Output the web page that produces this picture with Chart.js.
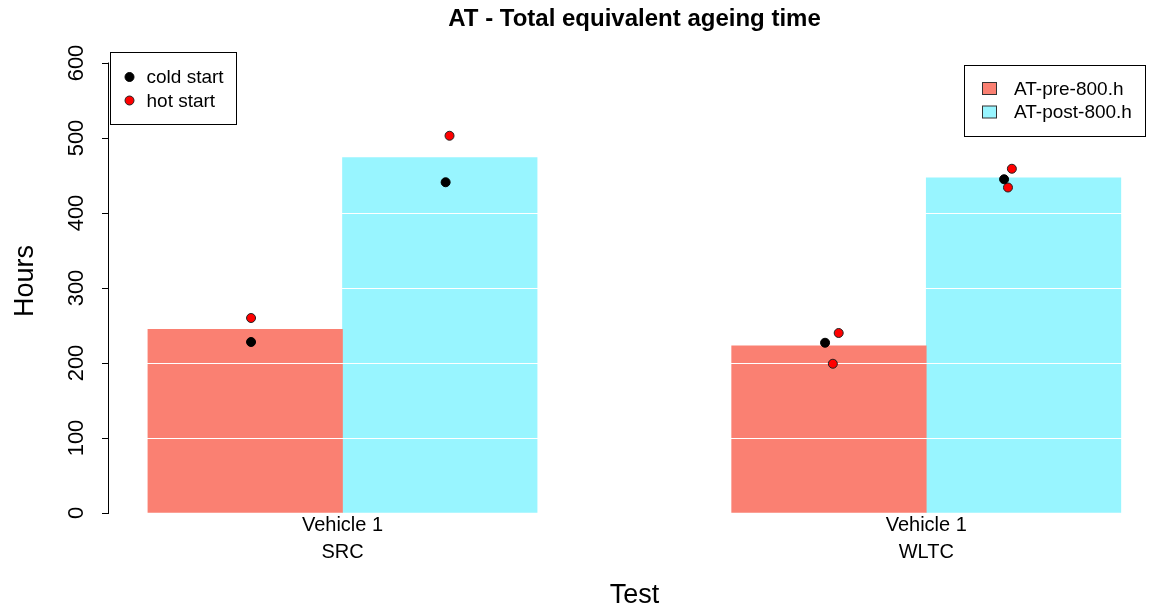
<!DOCTYPE html>
<html>
<head>
<meta charset="utf-8">
<title>AT - Total equivalent ageing time</title>
<script src="https://cdn.jsdelivr.net/npm/chart.js@4/dist/chart.umd.min.js"></script>
<style>
  html, body { margin: 0; padding: 0; background: #ffffff; }
  #wrap { width: 1151px; height: 611px; }
</style>
</head>
<body>
<div id="wrap"><canvas id="chart" width="1151" height="611"></canvas></div>
<script>
// Test groups and their two-line axis labels
const categoryLabels = [['Vehicle 1', 'SRC'], ['Vehicle 1', 'WLTC']];
const groupCenters = [2, 5];

// Mean equivalent ageing time per group (hours)
const preLabel = 'AT-pre-800.h';
const postLabel = 'AT-post-800.h';
const preValues = [245, 223];
const postValues = [474, 447];

// Individual runs (x is the jittered position on the test axis)
const coldX = [1.53, 2.53, 4.48, 5.40];
const coldY = [228, 441, 227, 445];
const hotX = [1.53, 2.55, 4.55, 4.52, 5.44, 5.42];
const hotY = [260, 503, 240, 199, 459, 434];

// Value axis ticks
const yTicks = [0, 100, 200, 300, 400, 500, 600];

const chartTitle = 'AT - Total equivalent ageing time';
const xTitle = 'Test';
const yTitle = 'Hours';

const PRE_COLOR = '#FA8072';
const POST_COLOR = '#98F5FF';
const FONT = '"Liberation Sans", Arial, Helvetica, sans-serif';

// White reference lines drawn over the bars
const barGridPlugin = {
  id: 'barGrid',
  afterDatasetDraw(chart, args) {
    if (args.meta.type !== 'bar') return;
    const { ctx, chartArea } = chart;
    const y = chart.scales.y;
    ctx.save();
    ctx.strokeStyle = '#ffffff';
    ctx.lineWidth = 1.2;
    y.ticks.forEach(t => {
      if (t.value <= y.min || t.value >= y.max) return;
      const py = Math.round(y.getPixelForValue(t.value)) + 0.5;
      ctx.beginPath();
      ctx.moveTo(chartArea.left + 1, py);
      ctx.lineTo(chartArea.right, py);
      ctx.stroke();
    });
    ctx.restore();
  }
};

// Axis line, title, axis labels and the two boxed legends
const annotatePlugin = {
  id: 'annotate',
  afterDraw(chart) {
    const { ctx, chartArea } = chart;
    const xs = chart.scales.x, ys = chart.scales.y;
    ctx.save();

    // value axis line spanning the tick range
    ctx.strokeStyle = '#000';
    ctx.lineWidth = 1;
    ctx.beginPath();
    ctx.moveTo(chartArea.left - 0.5, Math.round(ys.getPixelForValue(yTicks[0])) + 0.5);
    ctx.lineTo(chartArea.left - 0.5, Math.round(ys.getPixelForValue(yTicks[yTicks.length - 1])) - 0.5);
    ctx.stroke();

    ctx.fillStyle = '#000';

    // title
    ctx.font = 'bold 24px ' + FONT;
    ctx.textAlign = 'center';
    ctx.textBaseline = 'alphabetic';
    ctx.fillText(chartTitle, 634.5, 26);

    // value tick labels, rotated
    ctx.font = '22px ' + FONT;
    ys.ticks.forEach(t => {
      ctx.save();
      ctx.translate(83, ys.getPixelForValue(t.value));
      ctx.rotate(-Math.PI / 2);
      ctx.textAlign = 'center';
      ctx.fillText(String(t.value), 0, 0);
      ctx.restore();
    });

    // group labels
    ctx.font = '20px ' + FONT;
    ctx.textAlign = 'center';
    xs.ticks.forEach((t, i) => {
      const px = xs.getPixelForValue(t.value);
      const lines = categoryLabels[i];
      lines.forEach((line, j) => ctx.fillText(line, px, 531 + j * 26.6));
    });

    // axis titles
    ctx.font = '27px ' + FONT;
    ctx.fillText(xTitle, 634.5, 603);
    ctx.save();
    ctx.translate(33, 281);
    ctx.rotate(-Math.PI / 2);
    ctx.fillText(yTitle, 0, 0);
    ctx.restore();

    // legend for run points
    const ptSets = chart.data.datasets.filter(d => d.type === 'scatter');
    ctx.lineWidth = 1;
    ctx.strokeStyle = '#000';
    ctx.strokeRect(110.5, 52.5, 126, 72);
    ctx.font = '19px ' + FONT;
    ctx.textAlign = 'left';
    ctx.textBaseline = 'middle';
    ptSets.forEach((d, i) => {
      const cy = 77 + i * 23.5;
      ctx.beginPath();
      ctx.arc(129.5, cy, 4.5, 0, Math.PI * 2);
      ctx.fillStyle = d.backgroundColor;
      ctx.fill();
      ctx.strokeStyle = d.borderColor;
      ctx.stroke();
      ctx.fillStyle = '#000';
      ctx.fillText(d.label, 146.5, cy + 1);
    });

    // legend for bars
    const barSets = chart.data.datasets.filter(d => d.type === 'bar');
    ctx.strokeStyle = '#000';
    ctx.strokeRect(964.5, 65.5, 181, 71);
    barSets.forEach((d, i) => {
      const cy = 88.5 + i * 23.5;
      ctx.fillStyle = d.backgroundColor;
      ctx.fillRect(982.5, cy - 6, 14, 12);
      ctx.strokeStyle = '#333';
      ctx.strokeRect(982.5, cy - 6, 14, 12);
      ctx.fillStyle = '#000';
      ctx.fillText(d.label, 1014, cy + 1);
    });
    ctx.restore();
  }
};

new Chart(document.getElementById('chart'), {
  data: {
    datasets: [
      {
        type: 'scatter', label: 'cold start', order: 1,
        data: coldX.map((x, i) => ({ x, y: coldY[i] })),
        backgroundColor: '#000000', borderColor: '#000000', borderWidth: 1,
        pointRadius: 4.5
      },
      {
        type: 'scatter', label: 'hot start', order: 1,
        data: hotX.map((x, i) => ({ x, y: hotY[i] })),
        backgroundColor: '#FF0000', borderColor: '#222222', borderWidth: 1,
        pointRadius: 4.5
      },
      {
        type: 'bar', label: preLabel, order: 2,
        data: groupCenters.map((c, i) => ({ x: c - 0.5, y: preValues[i] })),
        backgroundColor: PRE_COLOR, borderWidth: 0,
        grouped: false, barPercentage: 1, categoryPercentage: 1
      },
      {
        type: 'bar', label: postLabel, order: 2,
        data: groupCenters.map((c, i) => ({ x: c + 0.5, y: postValues[i] })),
        backgroundColor: POST_COLOR, borderWidth: 0,
        grouped: false, barPercentage: 1, categoryPercentage: 1
      }
    ]
  },
  options: {
    responsive: false,
    animation: false,
    devicePixelRatio: 1,
    layout: { autoPadding: false, padding: { top: 63, left: 0, right: 0, bottom: 0 } },
    plugins: {
      legend: { display: false },
      title: { display: false },
      tooltip: { enabled: false }
    },
    scales: {
      x: {
        type: 'linear', min: 0.8, max: 6.155, offset: false,
        afterBuildTicks: s => { s.ticks = groupCenters.map(v => ({ value: v })); },
        afterFit: s => { s.height = 98; },
        grid: { display: false },
        border: { display: false },
        ticks: { display: false }
      },
      y: {
        type: 'linear', min: 0, max: 600,
        afterBuildTicks: s => { s.ticks = yTicks.map(v => ({ value: v })); },
        afterFit: s => { s.width = 109; },
        grid: { drawOnChartArea: false, drawTicks: true, tickLength: 7, tickColor: '#000', color: '#000' },
        border: { display: false },
        ticks: { display: false }
      }
    }
  },
  plugins: [barGridPlugin, annotatePlugin]
});
</script>
</body>
</html>
